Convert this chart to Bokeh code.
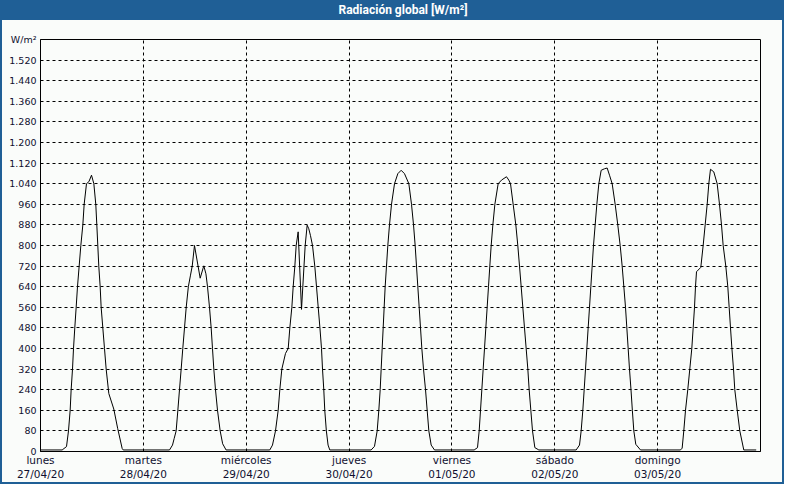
from bokeh.plotting import figure
from bokeh.models import Range1d, FixedTicker, Div
from bokeh.layouts import column
from bokeh.embed import file_html
from bokeh.resources import INLINE

# ---- data -------------------------------------------------------------
title_text = "Radiación global [W/m²]"
day_names = ["lunes", "martes", "miércoles", "jueves", "viernes", "sábado", "domingo"]
day_dates = ["27/04/20", "28/04/20", "29/04/20", "30/04/20", "01/05/20", "02/05/20", "03/05/20"]
y_ticks = [0, 80, 160, 240, 320, 400, 480, 560, 640, 720, 800, 880, 960, 1040,
           1120, 1200, 1280, 1360, 1440, 1520, 1600]
y_tick_labels = ["0", "80", "160", "240", "320", "400", "480", "560", "640", "720",
                 "800", "880", "960", "1.040", "1.120", "1.200", "1.280", "1.360",
                 "1.440", "1.520", "W/m²"]

# hour of day / W/m2, one pair of lists per day
mon_h = [0.0, 5.05, 6.07, 6.53, 6.92, 7.15, 7.47, 7.7, 8.0, 8.32, 8.63, 9.02, 9.41, 9.88,
         10.19, 10.73, 11.3, 11.9, 12.45, 12.9, 13.14, 13.37, 13.6, 13.92, 14.15, 14.54,
         14.93, 15.32, 15.94, 17.1, 18.0, 19.05, 19.3]
mon_v = [6, 6, 19, 80, 160, 240, 320, 400, 480, 560, 640, 720, 800, 880,
         960, 1040, 1048, 1073, 1040, 960, 880, 800, 720, 640, 560, 480,
         400, 320, 225, 165, 90, 12, 6]

tue_h = [6.1, 6.8, 7.2, 7.65, 8.05, 8.43, 8.82, 9.2, 9.6, 10.0, 10.5, 11.0, 11.4, 11.93,
         13.26, 14.1, 14.6, 14.97, 15.43, 15.82, 16.13, 16.44, 16.83, 17.3, 17.92, 18.5, 19.3]
tue_v = [6, 25, 51, 80, 160, 240, 320, 400, 480, 560, 640, 685, 720, 800,
         673, 721, 690, 640, 560, 480, 400, 320, 240, 160, 80, 30, 6]

wed_h = [5.5, 6.13, 6.83, 7.46, 7.84, 8.31, 9.17, 9.8, 10.18, 10.65, 10.96, 11.35, 11.66,
         12.12, 12.9, 13.76, 14.22, 14.6, 15.0, 15.47, 16.0, 16.4, 16.8, 17.2, 17.57, 17.8,
         18.1, 18.33, 18.7, 19.1, 19.5]
wed_v = [6, 25, 80, 160, 240, 320, 381, 400, 480, 560, 640, 720, 800,
         853, 552, 800, 879, 865, 838, 800, 720, 640, 560, 480, 400, 320,
         240, 160, 80, 25, 6]

thu_h = [5.15, 5.93, 6.56, 6.94, 7.26, 7.49, 7.72, 7.96, 8.19, 8.42, 8.73, 9.04, 9.43, 9.9,
         10.6, 11.38, 12.15, 12.93, 13.95, 14.57, 15.04, 15.42, 15.73, 16.04, 16.36, 16.67,
         16.98, 17.37, 17.84, 18.22, 18.61, 19.16, 19.93]
thu_v = [6, 20, 80, 160, 240, 320, 400, 480, 560, 640, 720, 800, 880, 960,
         1040, 1079, 1092, 1079, 1040, 960, 880, 800, 720, 640, 560, 480,
         400, 320, 240, 160, 80, 25, 6]

fri_h = [5.19, 5.97, 6.36, 6.67, 6.98, 7.29, 7.6, 7.91, 8.22, 8.53, 8.84, 9.16, 9.55, 10.02,
         10.79, 11.57, 12.73, 13.27, 13.67, 14.29, 14.91, 15.37, 15.77, 16.16, 16.54, 16.93,
         17.32, 17.71, 18.02, 18.41, 18.8, 19.35, 20.28]
fri_v = [6, 15, 80, 160, 240, 320, 400, 480, 560, 640, 720, 800, 880, 960,
         1040, 1054, 1067, 1054, 1040, 960, 880, 800, 720, 640, 560, 480,
         400, 320, 240, 160, 80, 15, 6]

sat_h = [4.99, 5.77, 6.15, 6.54, 6.86, 7.17, 7.48, 7.79, 8.1, 8.41, 8.72, 9.03, 9.42, 9.81,
         10.28, 10.82, 11.6, 12.22, 12.77, 13.39, 14.09, 14.7, 15.26, 15.72, 16.11, 16.5,
         16.81, 17.12, 17.43, 17.78, 18.1, 18.44, 18.9, 20.0]
sat_v = [6, 25, 80, 160, 240, 320, 400, 480, 560, 640, 720, 800, 880, 960,
         1040, 1092, 1098, 1101, 1073, 1040, 960, 880, 800, 720, 640, 560,
         480, 400, 320, 240, 160, 80, 28, 6]

sun_h = [5.33, 5.72, 6.1, 6.5, 7.03, 7.5, 7.97, 8.29, 8.6, 8.83, 9.07, 10.07, 10.62, 11.09,
         11.56, 11.94, 12.33, 13.1, 13.89, 14.43, 14.9, 15.29, 15.9, 16.37, 16.69, 17.0,
         17.33, 17.7, 18.0, 18.57, 19.17, 20.1, 23.0]
sun_v = [6, 13, 80, 160, 240, 320, 400, 480, 560, 640, 698, 715, 800, 880,
         960, 1040, 1096, 1086, 1040, 960, 880, 800, 720, 640, 560, 480,
         400, 320, 240, 160, 80, 6, 6]

days_h = [mon_h, tue_h, wed_h, thu_h, fri_h, sat_h, sun_h]
days_v = [mon_v, tue_v, wed_v, thu_v, fri_v, sat_v, sun_v]

hours, values = [], []
for d, (hh, vv) in enumerate(zip(days_h, days_v)):
    hours += [24 * d + h for h in hh]
    values += vv

# ---- styling ------------------------------------------------------------
BLUE = "#1f5f96"
BG = "#fafcfa"
TXT = "#101030"

title_div = Div(
    text=title_text, width=780, height=20, margin=(0, 0, 0, 0),
    styles={"background-color": BLUE, "color": "#ffffff", "font-weight": "bold",
            "font-size": "12px", "text-align": "center", "line-height": "20px",
            "text-indent": "22px", "font-family": "Roboto, 'DejaVu Sans', sans-serif"},
)

p = figure(width=780, height=462, x_range=Range1d(0, 168), y_range=Range1d(0, 1600),
           output_backend="svg", toolbar_location=None,
           min_border_left=38, min_border_right=22, min_border_top=19, min_border_bottom=28)
p.background_fill_color = BG
p.border_fill_color = BG
p.outline_line_color = "black"
p.outline_line_width = 1
p.outline_line_alpha = 1

p.xaxis.ticker = FixedTicker(ticks=[24 * i for i in range(len(day_names))])
p.xaxis.major_label_overrides = {24 * i: f"{n}\n{d}" for i, (n, d) in enumerate(zip(day_names, day_dates))}
p.yaxis.ticker = FixedTicker(ticks=y_ticks)
p.yaxis.major_label_overrides = dict(zip(y_ticks, y_tick_labels))

for ax in (p.xaxis[0], p.yaxis[0]):
    ax.axis_line_color = "black"
    ax.major_tick_line_color = None
    ax.minor_tick_line_color = None
    ax.major_tick_out = 0
    ax.major_tick_in = 0
    ax.major_label_text_color = TXT
    ax.major_label_text_font = "DejaVu Sans"
p.yaxis.major_label_text_font_size = "9.5px"
p.yaxis.major_label_standoff = 4
p.xaxis.major_label_text_font_size = "10.5px"
p.xaxis.major_label_standoff = 2

for g in (p.xgrid[0], p.ygrid[0]):
    g.grid_line_color = "black"
    g.grid_line_dash = "3 3"
    g.grid_line_width = 1
    g.grid_line_alpha = 1

p.line(hours, values, line_color="black", line_width=1)

layout = column(title_div, p,
                styles={"border-left": f"2px solid {BLUE}", "border-right": f"2px solid {BLUE}",
                        "border-bottom": f"2px solid {BLUE}", "background-color": BG})

open("out.html", "w").write(file_html(layout, INLINE))
